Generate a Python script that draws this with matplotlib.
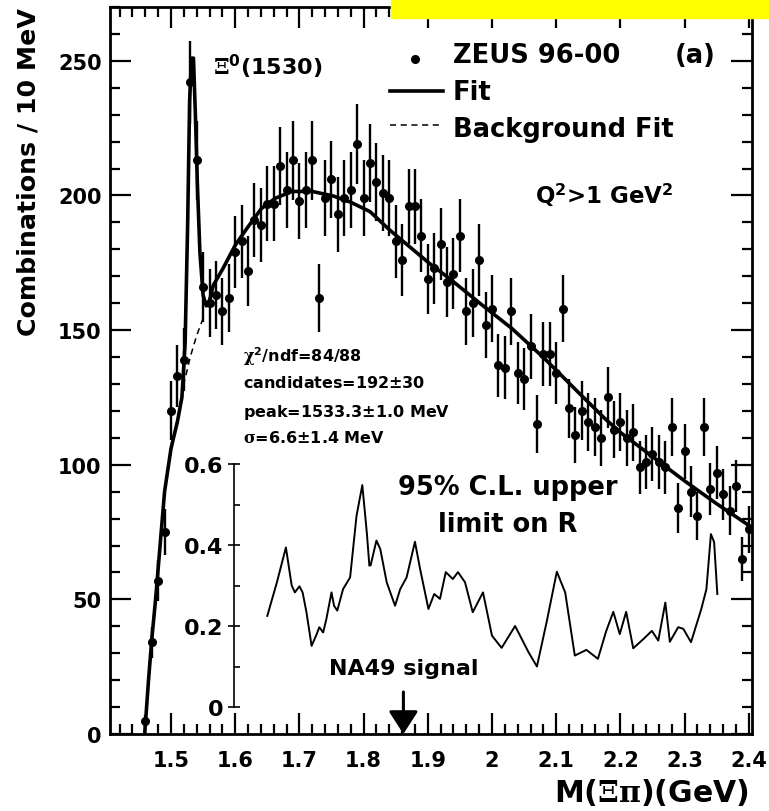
import matplotlib
matplotlib.use('Agg')
import matplotlib.pyplot as plt
import numpy as np
from matplotlib.lines import Line2D
from matplotlib.patches import Rectangle
from matplotlib.ticker import MultipleLocator, FuncFormatter

W, H = 769, 812

# ZEUS 96-00, M(Xi pi) in 10 MeV bins (bin centres in GeV)
mass = np.round(np.arange(1.46, 2.405, 0.01), 2)
counts = [5, 34, 57, 75, 120, 133, 139, 242, 213, 166,
          160, 163, 157, 162, 179, 183, 172, 191, 189, 197,
          197, 211, 202, 213, 198, 202, 213, 162, 199, 206,
          193, 199, 202, 219, 199, 212, 205, 201, 199, 183,
          176, 196, 196, 185, 169, 173, 182, 168, 171, 185,
          157, 160, 176, 152, 158, 137, 136, 157, 134, 132,
          144, 115, 141, 141, 134, 158, 121, 111, 120, 116,
          114, 110, 125, 113, 116, 110, 112, 99, 101, 104,
          101, 99, 114, 84, 105, 90, 81, 114, 91, 97,
          89, 83, 92, 65, 76]

# full fit (signal + background)
fit_x = [1.459, 1.465, 1.47, 1.476, 1.483, 1.49, 1.50, 1.51, 1.517, 1.522,
         1.526, 1.529, 1.532, 1.535, 1.538, 1.541, 1.545, 1.55, 1.555, 1.56,
         1.566, 1.581, 1.60, 1.618, 1.641, 1.662, 1.688, 1.72, 1.753, 1.78,
         1.81, 1.841, 1.872, 1.903, 1.934, 1.981, 2.031, 2.082, 2.134, 2.176,
         2.2, 2.25, 2.3, 2.35, 2.40]
fit_y = [0, 20, 35, 50, 70, 90, 106, 116, 125, 145,
         190, 235, 251, 251, 230, 205, 179, 163, 159, 161,
         166.7, 172.9, 181.5, 187.7, 195.2, 198.9, 201.5, 201.5, 199.8, 197.5,
         194, 187.1, 180.9, 174.7, 169.1, 160, 150.6, 139.4, 127, 117.1,
         112, 103, 94, 85.5, 77.5]

# background only, under the peak
bg_x = [1.50, 1.51, 1.52, 1.53, 1.54, 1.551]
bg_y = [106, 117, 130, 140, 148, 155]

# inset: 95% C.L. upper limit on R
lim_x = [1.65, 1.665, 1.679, 1.688, 1.693, 1.70, 1.705, 1.711, 1.719, 1.727,
         1.731, 1.737, 1.742, 1.75, 1.754, 1.759, 1.768, 1.779, 1.789, 1.798,
         1.805, 1.809, 1.811, 1.82, 1.826, 1.836, 1.849, 1.857, 1.867, 1.88,
         1.888, 1.901, 1.91, 1.919, 1.928, 1.939, 1.947, 1.958, 1.97, 1.986,
         2.0, 2.015, 2.036, 2.057, 2.07, 2.085, 2.101, 2.114, 2.129, 2.147,
         2.165, 2.178, 2.189, 2.199, 2.209, 2.22, 2.236, 2.249, 2.259, 2.27,
         2.277, 2.29, 2.298, 2.31, 2.326, 2.334, 2.341, 2.346, 2.351]
lim_r = [0.225, 0.308, 0.394, 0.30, 0.283, 0.298, 0.283, 0.234, 0.151, 0.18,
         0.197, 0.184, 0.217, 0.283, 0.25, 0.238, 0.291, 0.32, 0.472, 0.548,
         0.431, 0.349, 0.35, 0.411, 0.39, 0.308, 0.25, 0.291, 0.32, 0.408,
         0.341, 0.242, 0.279, 0.267, 0.333, 0.316, 0.333, 0.308, 0.234, 0.283,
         0.176, 0.146, 0.2, 0.135, 0.1, 0.209, 0.334, 0.283, 0.127, 0.141,
         0.119, 0.188, 0.235, 0.18, 0.235, 0.145, 0.168, 0.188, 0.164, 0.258,
         0.161, 0.197, 0.193, 0.16, 0.242, 0.291, 0.427, 0.407, 0.279]

na49_mass = 1.862


def fx(x):
    return x / W


def fy(y):
    return 1 - y / H


def fmt_g(v, pos):
    return '%g' % round(v, 3)


plt.rcParams['font.family'] = ['DejaVu Sans']
plt.rcParams['font.weight'] = 'bold'
plt.rcParams['mathtext.fontset'] = 'custom'
plt.rcParams['mathtext.rm'] = 'DejaVu Serif'
plt.rcParams['mathtext.it'] = 'DejaVu Serif:italic'
plt.rcParams['mathtext.bf'] = 'DejaVu Sans:bold'
plt.rcParams['mathtext.sf'] = 'DejaVu Sans'

fig = plt.figure(figsize=(W / 100, H / 100), dpi=100)
ax = fig.add_axes([fx(110), fy(735), (752 - 110) / W, (735 - 8) / H])
ax.set_xlim(1.405, 2.405)
ax.set_ylim(0, 270)

counts = np.array(counts, dtype=float)
ax.errorbar(mass, counts, yerr=np.sqrt(counts), fmt='o', color='k',
            ms=5.5, elinewidth=1.7, capsize=0, zorder=3)
ax.plot(fit_x, fit_y, color='k', lw=2.6, zorder=4)
ax.plot(bg_x, bg_y, color='k', lw=1.1, ls=(0, (4, 3)), zorder=4)

for sp in ax.spines.values():
    sp.set_linewidth(2.0)
ax.xaxis.set_major_locator(MultipleLocator(0.1))
ax.xaxis.set_minor_locator(MultipleLocator(0.02))
ax.yaxis.set_major_locator(MultipleLocator(50))
ax.yaxis.set_minor_locator(MultipleLocator(10))
ax.xaxis.set_major_formatter(FuncFormatter(fmt_g))
ax.tick_params(which='both', direction='in', top=True, right=True, width=1.6)
ax.tick_params(which='major', length=15, labelsize=15)
ax.tick_params(which='minor', length=7.2)
ax.tick_params(axis='x', which='major', pad=11.5)
ax.tick_params(axis='y', which='major', pad=6)

# NA49 arrow
ax.annotate('', xy=(na49_mass, 0), xytext=(na49_mass, 15.6),
            arrowprops=dict(arrowstyle='-|>,head_length=0.7,head_width=0.45',
                            color='k', lw=2.2, mutation_scale=20,
                            shrinkA=0, shrinkB=0), zorder=5)

# inset with the upper limit
ax2 = fig.add_axes([fx(110), fy(708), (752 - 110) / W, (708 - 465) / H])
ax2.set_xlim(1.405, 2.405)
ax2.set_ylim(0, 0.6)
ax2.patch.set_visible(False)
for side in ['top', 'right', 'bottom']:
    ax2.spines[side].set_visible(False)
ax2.spines['left'].set_position(('data', 1.5977))
ax2.spines['left'].set_linewidth(1.2)
ax2.set_xticks([])
ax2.yaxis.set_major_locator(MultipleLocator(0.2))
ax2.yaxis.set_minor_locator(MultipleLocator(0.1))
ax2.yaxis.set_major_formatter(FuncFormatter(fmt_g))
ax2.tick_params(axis='y', which='major', direction='inout', length=9, width=1.2,
                labelsize=16, pad=3)
ax2.tick_params(axis='y', which='minor', direction='in', length=4, width=1.2)
ax2.plot(lim_x, lim_r, color='k', lw=1.4)

# texts
fig.text(fx(29), fy(8), 'Combinations / 10 MeV', rotation=90, ha='center',
         va='top', fontsize=18.2)
fig.text(fx(749), fy(801.7), r'M($\mathrm{\Xi\pi}$)(GeV)', ha='right',
         va='baseline', fontsize=21.5)
fig.text(fx(213), fy(75), r'$\mathrm{\Xi}^{\mathbf{0}}$(1530)', ha='left',
         va='baseline', fontsize=16)
fig.text(fx(452.7), fy(63), 'ZEUS 96-00', va='baseline', fontsize=18.5)
fig.text(fx(675), fy(63), '(a)', va='baseline', fontsize=18.5)
fig.text(fx(452.7), fy(100), 'Fit', va='baseline', fontsize=18.5)
fig.text(fx(452.7), fy(137), 'Background Fit', va='baseline', fontsize=18.5)
fig.add_artist(Line2D([fx(415)], [fy(60)], marker='o', ms=5.5, color='k'))
fig.add_artist(Line2D([fx(390), fx(443)], [fy(92), fy(92)], lw=2.6, color='k'))
fig.add_artist(Line2D([fx(390), fx(443)], [fy(126), fy(126)], lw=1.1,
                      ls=(0, (4, 3)), color='k'))
fig.text(fx(535), fy(204), r'Q$^{\mathbf{2}}$>1 GeV$^{\mathbf{2}}$',
         va='baseline', fontsize=16.5)

stats = [r'$\mathrm{\chi}^{\mathbf{2}}$/ndf=84/88',
         r'candidates=192$\mathrm{\pm}$30',
         r'peak=1533.3$\mathrm{\pm}$1.0 MeV',
         r'$\mathrm{\sigma}$=6.6$\mathrm{\pm}$1.4 MeV']
for line, base in zip(stats, [361.7, 388, 416.7, 442.7]):
    fig.text(fx(242.7), fy(base), line, va='baseline', fontsize=11.5)

fig.text(fx(508), fy(495), '95% C.L. upper', ha='center', va='baseline',
         fontsize=18.5)
fig.text(fx(508), fy(531.7), 'limit on R', ha='center', va='baseline',
         fontsize=18.5)
fig.text(fx(404), fy(675), 'NA49 signal', ha='center', va='baseline',
         fontsize=16)

fig.add_artist(Rectangle((fx(391), fy(19.3)), (W - 391) / W, 19.3 / H,
                         transform=fig.transFigure, color='#ffff00',
                         zorder=10))

fig.savefig('out.png', dpi=100)
